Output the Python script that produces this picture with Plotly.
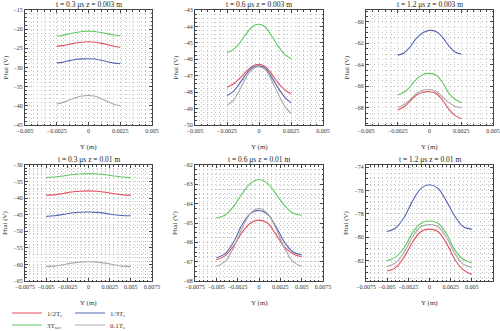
import plotly.graph_objects as go

# ---------------- data ----------------
x_top = [-0.0025, -0.002, -0.0015, -0.001, -0.0005, 0, 0.0005, 0.001, 0.0015, 0.002, 0.0025]
x_bot = [-0.005, -0.004, -0.003, -0.002, -0.001, 0, 0.001, 0.002, 0.003, 0.004, 0.005]

series_names = ["1/2T<sub>e</sub>", "3T<sub>sec</sub>", "1/3T<sub>e</sub>", "0.1T<sub>e</sub>"]
series_colors = ["#e0505c", "#60c860", "#5566b4", "#a8a8a8"]

# panel: t=0.3 us, z=0.003 m
p1_red   = [-24.5, -24.3, -23.95, -23.6, -23.4, -23.3, -23.4, -23.65, -24.05, -24.45, -24.7]
p1_green = [-21.8, -21.6, -21.2, -20.85, -20.6, -20.5, -20.6, -20.85, -21.2, -21.5, -21.7]
p1_blue  = [-28.8, -28.6, -28.2, -27.9, -27.75, -27.7, -27.8, -28.1, -28.5, -28.85, -29.0]
p1_gray  = [-39.5, -39.1, -38.5, -37.9, -37.45, -37.3, -37.5, -38.1, -38.9, -39.6, -40.0]

# panel: t=0.6 us, z=0.003 m
p2_red   = [-47.7, -47.5, -47.15, -46.75, -46.4, -46.3, -46.45, -46.9, -47.45, -47.85, -48.1]
p2_green = [-45.6, -45.4, -45.0, -44.45, -44.0, -43.87, -44.05, -44.6, -45.2, -45.7, -45.95]
p2_blue  = [-48.2, -47.95, -47.45, -46.9, -46.5, -46.4, -46.55, -47.1, -47.75, -48.3, -48.65]
p2_gray  = [-48.8, -48.5, -47.85, -47.1, -46.6, -46.45, -46.65, -47.3, -48.1, -48.85, -49.3]

# panel: t=1.2 us, z=0.003 m
p3_red   = [-68.2, -67.9, -67.35, -66.8, -66.55, -66.5, -66.65, -67.25, -68.1, -68.7, -69.0]
p3_green = [-66.8, -66.55, -66.0, -65.3, -64.9, -64.8, -64.95, -65.6, -66.6, -67.2, -67.5]
p3_blue  = [-63.1, -62.9, -62.3, -61.5, -61.0, -60.8, -60.9, -61.4, -62.2, -62.8, -63.0]
p3_gray  = [-68.0, -67.7, -67.2, -66.65, -66.35, -66.3, -66.45, -66.95, -67.5, -67.85, -68.0]

# panel: t=0.3 us, z=0.01 m
p4_red   = [-39.1, -39.0, -38.6, -38.15, -37.9, -37.8, -37.9, -38.2, -38.7, -39.0, -39.1]
p4_green = [-33.8, -33.6, -33.3, -32.95, -32.7, -32.6, -32.7, -32.95, -33.3, -33.6, -33.8]
p4_blue  = [-45.5, -45.3, -44.9, -44.5, -44.25, -44.2, -44.3, -44.6, -45.0, -45.25, -45.3]
p4_gray  = [-60.6, -60.5, -60.1, -59.6, -59.3, -59.2, -59.3, -59.6, -60.1, -60.5, -60.6]

# panel: t=0.6 us, z=0.01 m
p5_red   = [-66.9, -66.7, -66.2, -65.5, -65.0, -64.85, -65.0, -65.6, -66.25, -66.6, -66.75]
p5_green = [-64.75, -64.6, -64.15, -63.5, -62.95, -62.75, -62.95, -63.5, -64.1, -64.5, -64.6]
p5_blue  = [-66.8, -66.6, -66.0, -65.1, -64.5, -64.35, -64.55, -65.2, -66.0, -66.5, -66.65]
p5_gray  = [-67.25, -67.0, -66.3, -65.3, -64.5, -64.25, -64.5, -65.3, -66.3, -67.0, -67.25]

# panel: t=1.2 us, z=0.01 m
p6_red   = [-82.9, -82.6, -81.7, -80.4, -79.5, -79.3, -79.5, -80.5, -81.9, -82.8, -83.2]
p6_green = [-82.0, -81.7, -80.9, -79.6, -78.8, -78.6, -78.8, -79.7, -81.1, -81.9, -82.2]
p6_blue  = [-79.5, -79.2, -78.3, -76.9, -75.8, -75.5, -75.8, -76.9, -78.2, -79.1, -79.3]
p6_gray  = [-82.5, -82.2, -81.3, -79.95, -79.1, -78.9, -79.1, -80.0, -81.4, -82.3, -82.6]

titles = ["t = 0.3 μs z = 0.003 m", "t = 0.6 μs z = 0.003 m", "t = 1.2 μs z = 0.003 m",
          "t = 0.3 μs z = 0.01 m", "t = 0.6 μs z = 0.01 m", "t = 1.2 μs z = 0.01 m"]

xt_top_vals = [-0.005, -0.0025, 0, 0.0025, 0.005]
xt_top_text = ["−0.005", "−0.0025", "0", "0.0025", "0.005"]
xt_bot_vals = [-0.0075, -0.005, -0.0025, 0, 0.0025, 0.005, 0.0075]
xt_bot_text = ["−0.0075", "−0.005", "−0.0025", "0", "0.0025", "0.005", "0.0075"]

panels = [
    (x_top, [p1_red, p1_green, p1_blue, p1_gray], [-45, -15], 5, xt_top_vals, xt_top_text, [-0.005, 0.005]),
    (x_top, [p2_red, p2_green, p2_blue, p2_gray], [-50, -43], 1, xt_top_vals, xt_top_text, [-0.005, 0.005]),
    (x_top, [p3_red, p3_green, p3_blue, p3_gray], [-69.6, -58.9], 2, xt_top_vals, xt_top_text, [-0.005, 0.005]),
    (x_bot, [p4_red, p4_green, p4_blue, p4_gray], [-65, -30], 5, xt_bot_vals, xt_bot_text, [-0.0075, 0.0075]),
    (x_bot, [p5_red, p5_green, p5_blue, p5_gray], [-68, -62], 1, xt_bot_vals, xt_bot_text, [-0.0075, 0.0075]),
    (x_bot, [p6_red, p6_green, p6_blue, p6_gray], [-83.75, -73.8], 2, xt_bot_vals, xt_bot_text, [-0.0075, 0.0075]),
]

# ---------------- layout geometry ----------------
W, H = 500, 331
col_px = [(25, 152), (195, 323), (366, 493)]
row_px = [(10, 125), (165, 281)]

FONT = "Liberation Serif"
fig = go.Figure()
layout = dict(
    width=W, height=H, margin=dict(l=0, r=0, t=0, b=0, autoexpand=False),
    paper_bgcolor="white", plot_bgcolor="white",
    font=dict(family=FONT, size=7, color="#333"),
)
annotations = []
# each legend entry gets its own legend box: (id, x px, y px)
legend_pos = [("legend", 7, 313), ("legend2", 7, 325), ("legend3", 70, 313), ("legend4", 70, 325)]
GRID = "#c4c4c4"
DASH = "1px,3px"

for i, (xs, ys_list, yr, ydt, xtv, xtt, xr) in enumerate(panels):
    r, c = divmod(i, 3)
    x0, x1 = col_px[c]
    yt, yb = row_px[r]
    n = i + 1
    xa = "xaxis" if n == 1 else f"xaxis{n}"
    ya = "yaxis" if n == 1 else f"yaxis{n}"
    xref = "x" if n == 1 else f"x{n}"
    yref = "y" if n == 1 else f"y{n}"
    common = dict(
        showline=True, linecolor="#444", linewidth=1, mirror="ticks",
        ticks="inside", ticklen=3, tickcolor="#444", tickangle=0,
        showgrid=True, gridcolor=GRID, griddash=DASH, gridwidth=1,
        zeroline=False, tickfont=dict(family=FONT, size=6, color="#333"),
    )
    layout[xa] = dict(
        common, domain=[x0 / W, x1 / W], anchor=yref, range=xr,
        tickvals=xtv, ticktext=xtt,
        minor=dict(dtick=0.0005, ticks="inside", ticklen=1.5, tickcolor="#444",
                   showgrid=True, gridcolor=GRID, griddash=DASH, gridwidth=1),
    )
    layout[ya] = dict(
        common, domain=[1 - yb / H, 1 - yt / H], anchor=xref, range=yr,
        dtick=ydt, tick0=0,
        minor=dict(dtick=ydt / 4 if ydt != 5 else 1, ticks="inside", ticklen=1.5, tickcolor="#444",
                   showgrid=True, gridcolor=GRID, griddash=DASH, gridwidth=1),
    )
    for k, ys in enumerate(ys_list):
        fig.add_trace(go.Scatter(
            x=xs, y=ys, mode="lines", line=dict(color=series_colors[k], width=1.1, shape="spline"),
            name=series_names[k], showlegend=(i == 0), legend=legend_pos[k][0],
            xaxis=xref, yaxis=yref,
        ))
    cx = (x0 + x1) / 2 / W
    annotations.append(dict(text=titles[i], x=cx, y=1 - (yt - 6) / H, xref="paper", yref="paper",
                            showarrow=False, font=dict(family=FONT, size=7.5, color="#222"),
                            xanchor="center", yanchor="middle"))
    annotations.append(dict(text="Y (m)", x=cx, y=1 - (yb + 22) / H, xref="paper", yref="paper",
                            showarrow=False, font=dict(family=FONT, size=7, color="#333"),
                            xanchor="center", yanchor="middle"))
    annotations.append(dict(text="Phai (V)", x=(x0 - 20) / W, y=1 - (yt + yb) / 2 / H,
                            xref="paper", yref="paper", textangle=-90,
                            showarrow=False, font=dict(family=FONT, size=7, color="#333"),
                            xanchor="center", yanchor="middle"))

for lid, lx, ly in legend_pos:
    layout[lid] = dict(font=dict(family=FONT, size=7, color="#333"), bgcolor="rgba(0,0,0,0)",
                       itemwidth=30, orientation="v", xanchor="left", yanchor="middle",
                       x=lx / W, y=1 - ly / H)
layout["annotations"] = annotations
fig.update_layout(**layout)
fig.write_html("out.html")
